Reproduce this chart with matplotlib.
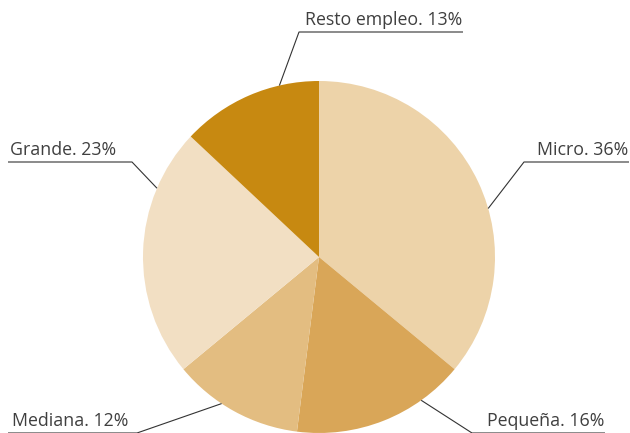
import numpy as np
import matplotlib.pyplot as plt
from matplotlib import rcParams

rcParams.update({"font.family": ["Open Sans", "DejaVu Sans"], "font.size": 12.8})

labels = ["Micro", "Pequeña", "Mediana", "Grande", "Resto empleo"]
shares = [36, 16, 12, 23, 13]
colors = ["#EDD3A9", "#D9A658", "#E3BD81", "#F2DFC3", "#C78911"]

W, H = 630, 433
cx, cy, r = 319, H - 257, 176

fig = plt.figure(figsize=(6.3, 4.33), dpi=100)
ax = fig.add_axes([0, 0, 1, 1])
ax.set_aspect("equal")
ax.axis("off")

ax.pie(shares, colors=colors, startangle=90, counterclock=False,
       center=(cx, cy), radius=r, wedgeprops=dict(linewidth=0))
ax.set_xlim(0, W)
ax.set_ylim(0, H)

# leader layout: anchor angle on pie edge, elbow, end of underline, text side
leaders = {
    "Micro": (16, (524, H - 162), (629, H - 162), "right"),
    "Pequeña": (-54.5, (472, H - 433), (605, H - 433), "left_low"),
    "Mediana": (236.4, (137, H - 433), (8, H - 433), "right_low"),
    "Grande": (157, (132, H - 162), (8, H - 162), "left"),
    "Resto empleo": (103, (299, H - 32), (463, H - 32), "right"),
}

txt_col = "#3f3f3f"
for lab, val in zip(labels, shares):
    ang, elbow, end, side = leaders[lab]
    a = np.deg2rad(ang)
    p0 = (cx + r * np.cos(a), cy + r * np.sin(a))
    ax.plot([p0[0], elbow[0], end[0]], [p0[1], elbow[1], end[1]],
            color="#333333", lw=0.8, solid_capstyle="butt", clip_on=False)
    s = f"{lab}. {val}%"
    if side == "right":
        ax.text(end[0] - 1, end[1] + 3, s, ha="right", va="bottom", color=txt_col)
    elif side == "left":
        ax.text(end[0] + 2, end[1] + 3, s, ha="left", va="bottom", color=txt_col)
    elif side == "left_low":
        ax.text(elbow[0] + 15, H - 421, s, ha="left", va="center", color=txt_col)
    else:
        ax.text(elbow[0] - 9, H - 421, s, ha="right", va="center", color=txt_col)

fig.savefig("out.png", dpi=100)
